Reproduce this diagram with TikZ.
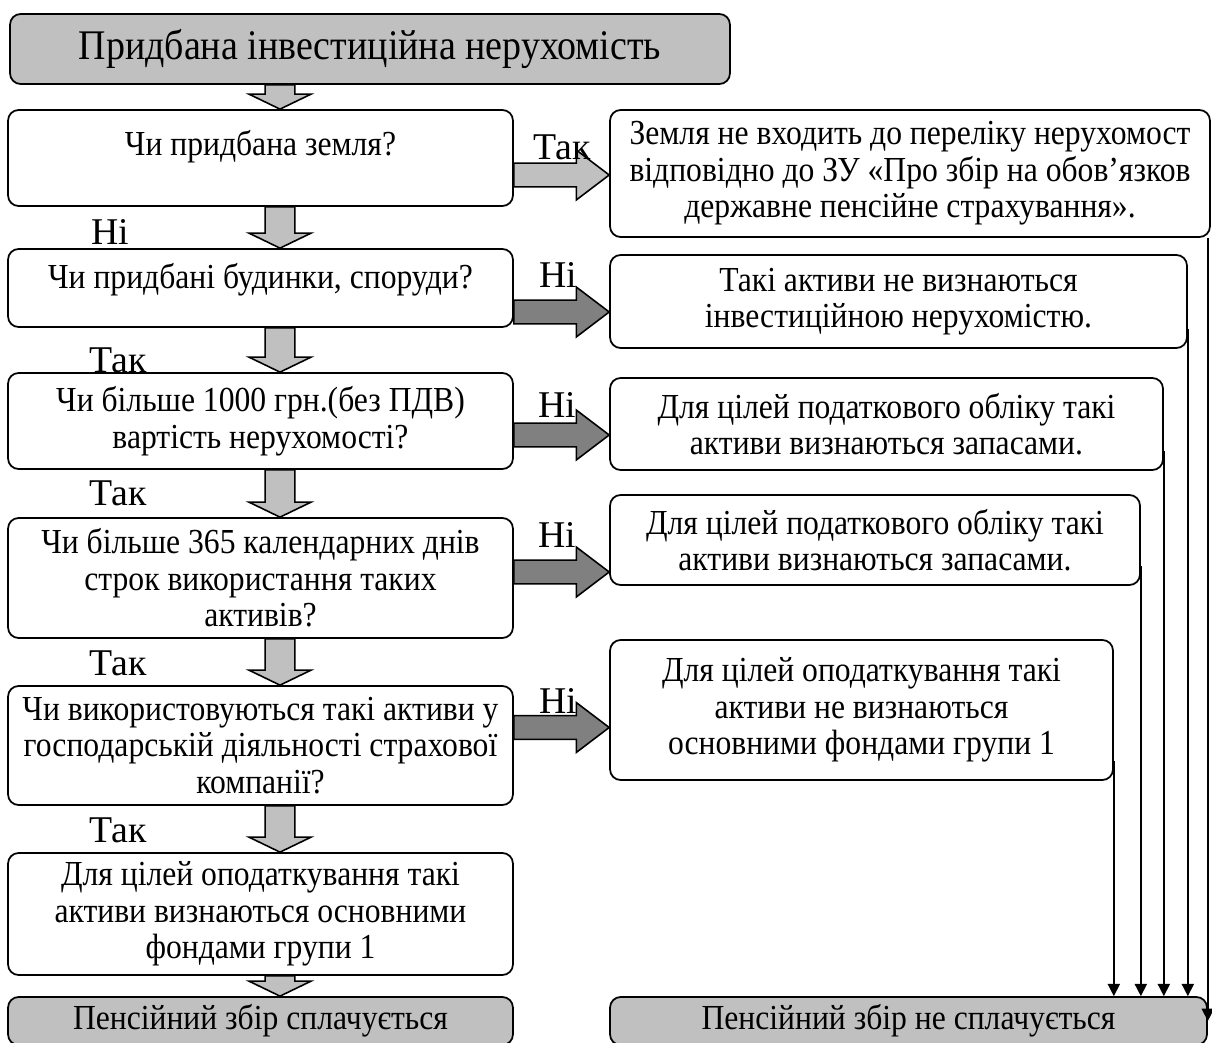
\documentclass[tikz,border=0pt]{standalone}
\usepackage{fontspec}
\setmainfont{Liberation Serif}
\newfontfamily\boxfont[FakeStretch=0.9]{Liberation Serif}
\usetikzlibrary{arrows.meta,positioning,calc}
\definecolor{boxgray}{RGB}{192,192,192}
\definecolor{arrowdark}{RGB}{128,128,128}

\begin{document}
\begin{tikzpicture}[
    x=0.02cm, y=-0.02cm,
    box/.style={draw, rounded corners=6pt, line width=1pt, fill=white, align=center, inner sep=2pt, font=\boxfont\fontsize{20}{20.8}\selectfont},
    endbox/.style={box, fill=boxgray},
    answer/.style={font=\fontsize{21.5}{24}\selectfont, inner sep=0pt},
    vblock/.style={draw, line width=0.9pt, fill=boxgray, to path={
        let \p1=(\tikztostart), \p2=(\tikztotarget) in
        (\x1-8.5pt,\y1) -- (\x1-8.5pt,\y2+8.5pt) -- (\x1-17.6pt,\y2+8.5pt) -- (\x1,\y2)
        -- (\x1+17.6pt,\y2+8.5pt) -- (\x1+8.5pt,\y2+8.5pt) -- (\x1+8.5pt,\y1) -- cycle}},
    hblock/.style={draw, line width=0.9pt, fill=#1, to path={
        let \p1=(\tikztostart), \p2=(\tikztotarget) in
        (\x1,\y1+6.8pt) -- (\x2-18.7pt,\y1+6.8pt) -- (\x2-18.7pt,\y1+14.2pt) -- (\x2,\y1)
        -- (\x2-18.7pt,\y1-14.2pt) -- (\x2-18.7pt,\y1-6.8pt) -- (\x1,\y1-6.8pt) -- cycle}},
    thinarr/.style={-{Triangle[length=7pt,width=7pt]}, line width=0.8pt}
  ]
    \useasboundingbox (0,0) rectangle (1212,1043);
    \clip (0,0) rectangle (1212,1043);
    \coordinate (ax) at (280,0);

    % left column: questions
    \node[endbox, minimum width=14.4cm, minimum height=1.4cm, font=\boxfont\fontsize{24}{26}\selectfont] (start) at (370,49) {Придбана інвестиційна нерухомість};
    \node[box, minimum width=10.1cm, minimum height=1.92cm, text depth=17pt] (land) at (260.5,158) {Чи придбана земля?};
    \node[box, minimum width=10.1cm, minimum height=1.56cm, text depth=13.5pt] (build) at (260.5,288) {Чи придбані будинки, споруди?};
    \node[box, minimum width=10.1cm, minimum height=1.92cm] (cost) at (260.5,421) {Чи більше 1000 грн.(без ПДВ)\\вартість нерухомості?};
    \node[box, minimum width=10.1cm, minimum height=2.4cm] (term) at (260.5,578) {Чи більше 365 календарних днів\\строк використання таких\\активів?};
    \node[box, minimum width=10.1cm, minimum height=2.38cm] (usage) at (260.5,745.5) {Чи використовуються такі активи у\\господарській діяльності страхової\\компанії?};
    \node[box, minimum width=10.1cm, minimum height=2.44cm] (fixed) at (260.5,914) {Для цілей оподаткування такі\\активи визнаються основними\\фондами групи 1};
    \node[endbox, minimum width=10.1cm, minimum height=0.96cm] (paid) at (260.5,1021) {Пенсійний збір сплачується};

    % right column: outcomes
    \node[box, minimum width=12cm, minimum height=2.54cm] (noland) at (910,173.5) {Земля не входить до переліку нерухомост\\відповідно до ЗУ «Про збір на обов’язков\\державне пенсійне страхування».};
    \node[box, minimum width=11.54cm, minimum height=1.86cm] (notinv) at (898.5,301.5) {Такі активи не визнаються\\інвестиційною нерухомістю.};
    \node[box, minimum width=11.06cm, minimum height=1.84cm] (stockA) at (886.5,424) {Для цілей податкового обліку такі\\активи визнаються запасами.};
    \node[box, minimum width=10.6cm, minimum height=1.8cm] (stockB) at (875,540) {Для цілей податкового обліку такі\\активи визнаються запасами.};
    \node[box, minimum width=10.06cm, minimum height=2.8cm] (notfixed) at (861.5,710) {Для цілей оподаткування такі\\активи не визнаються\\основними фондами групи 1};
    \node[endbox, minimum width=11.94cm, minimum height=0.96cm] (notpaid) at (908.5,1021) {Пенсійний збір не сплачується};

    % block arrows
    \draw[vblock] (start.south -| ax) to (land.north -| ax);
    \draw[vblock] (land.south -| ax) to (build.north -| ax);
    \draw[vblock] (build.south -| ax) to (cost.north -| ax);
    \draw[vblock] (cost.south -| ax) to (term.north -| ax);
    \draw[vblock] (term.south -| ax) to (usage.north -| ax);
    \draw[vblock] (usage.south -| ax) to (fixed.north -| ax);
    \draw[vblock] (fixed.south -| ax) to (paid.north -| ax);
    \draw[hblock=boxgray] ($(land.east)+(0,17)$) to (noland.west);
    \draw[hblock=arrowdark] ($(build.east)+(0,24)$) to (notinv.west);
    \draw[hblock=arrowdark] ($(cost.east)+(0,14)$) to (stockA.west);
    \draw[hblock=arrowdark] ($(term.east)+(0,-6)$) to (stockB.west);
    \draw[hblock=arrowdark] ($(usage.east)+(0,-18)$) to (notfixed.west);

    % answers
    \node[answer] (yesA) at (562,147) {Так};
    \node[answer] (noA) at (110,232) {Ні};
    \node[answer] (noB) at (558,275) {Ні};
    \node[answer] (yesB) at (118,360) {Так};
    \node[answer] (noC) at (557,405) {Ні};
    \node[answer] (yesC) at (118,493) {Так};
    \node[answer] (noD) at (557,535) {Ні};
    \node[answer] (yesD) at (118,663) {Так};
    \node[answer] (noE) at (558,701) {Ні};
    \node[answer] (yesE) at (118,830) {Так};

    % thin arrows to the right end box
    \draw[thinarr] ($(notfixed.south east)+(0,-20)$) -- (notfixed.south east |- notpaid.north);
    \draw[thinarr] ($(stockB.south east)+(0,-20)$) -- (stockB.south east |- notpaid.north);
    \draw[thinarr] ($(stockA.south east)+(0,-20)$) -- (stockA.south east |- notpaid.north);
    \draw[thinarr] ($(notinv.south east)+(0,-20)$) -- (notinv.south east |- notpaid.north);
    \draw[thinarr] (notpaid.east |- noland.south) -- (notpaid.east);
\end{tikzpicture}
\end{document}
